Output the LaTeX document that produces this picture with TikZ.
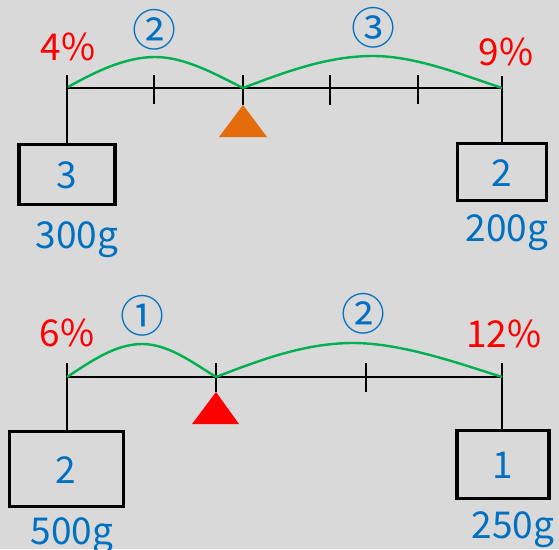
\documentclass[tikz,border=0pt]{standalone}
\usepackage{fontspec}
\setmainfont{Noto Sans CJK JP}
\definecolor{bgcol}{HTML}{D9D9D9}
\definecolor{txtblue}{HTML}{0070C0}
\definecolor{pctred}{HTML}{FF0000}
\definecolor{arcgreen}{HTML}{00B050}
\definecolor{fulcorange}{HTML}{E46C0A}
\definecolor{fulcred}{HTML}{FF0000}
\begin{document}
\begin{tikzpicture}[x=1pt,y=-1pt,
  beam/.style={line width=2.4pt,draw=black},
  weight/.style={draw=black,line width=3.6pt,inner sep=0pt,text=txtblue,
     font=\fontsize{37}{37}\selectfont},
  wnum/.style={anchor=base,inner sep=0pt,text=txtblue,font=\fontsize{37}{37}\selectfont},
  mass/.style={anchor=base,inner sep=0pt,text=txtblue,font=\fontsize{37}{37}\selectfont},
  pct/.style={anchor=base,inner sep=0pt,text=pctred,font=\fontsize{37}{37}\selectfont},
  ratio/.style={anchor=center,inner sep=0pt,text=txtblue,font=\fontsize{44}{44}\selectfont},
  arcline/.style={line width=2.4pt,draw=arcgreen}]
\fill[bgcol] (0,0) rectangle (559,549);
\useasboundingbox (0,0) rectangle (559,549);

% ---------- top balance ----------
\coordinate (TL) at (67,88);
\coordinate (TR) at (502,88);
\coordinate (TF) at (243,88);
\coordinate (TLtop) at (67,75);
\coordinate (TRtop) at (502,76);
\node[weight,minimum width=96pt,minimum height=60pt] (TLbox) at (67,174.5) {};
\node[weight,minimum width=89pt,minimum height=57pt] (TRbox) at (502,172) {};
\draw[beam] (TL) -- (TR);
\draw[beam] (TLtop) -- (TLbox.north);
\draw[beam] (TRtop) -- (TRbox.north);
\draw[beam] (154,75) -- (154,104);
\draw[beam] (243,75) -- (243,105);
\draw[beam] (330,75) -- (330,105);
\draw[beam] (418,75) -- (418,104);
\fill[fulcorange] (243,105) -- (267,137) -- (219,137) -- cycle;
\draw[arcline] (68,87) .. controls (95,72) and (125,57) .. (155,57)
  .. controls (185,57) and (215,74) .. (TF);
\draw[arcline] (TF) .. controls (290,70) and (330,56) .. (373,56)
  .. controls (415,56) and (460,74) .. (TR);
\node[wnum] (tw1) at (67,188) {3};
\node[wnum] (tw2) at (502,186) {2};
\node[mass] (tm1) at (77,248) {300g};
\node[mass] (tm2) at (507,241) {200g};
\node[pct] (tp1) at (68,60) {4\%};
\node[pct] (tp2) at (506,65) {9\%};
\node[ratio] (tr1) at (154,30) {②};
\node[ratio] (tr2) at (373,28) {③};

% ---------- bottom balance ----------
\coordinate (BL) at (67,377);
\coordinate (BR) at (502,377);
\coordinate (BF) at (216,377);
\coordinate (BLtop) at (67,363);
\coordinate (BRtop) at (502,363);
\node[weight,minimum width=114pt,minimum height=75pt] (BLbox) at (66.5,469) {};
\node[weight,minimum width=92pt,minimum height=68pt] (BRbox) at (503,464.5) {};
\draw[beam] (BL) -- (BR);
\draw[beam] (BLtop) -- (BLbox.north -| BLtop);
\draw[beam] (BRtop) -- (BRbox.north -| BRtop);
\draw[beam] (216,363) -- (216,392);
\draw[beam] (366,363) -- (366,392);
\fill[fulcred] (216,392) -- (239,424) -- (192,424) -- cycle;
\draw[arcline] (BL) .. controls (90,362) and (115,344) .. (142,344)
  .. controls (168,344) and (192,362) .. (BF);
\draw[arcline] (BF) .. controls (260,360) and (305,343) .. (353,343)
  .. controls (400,343) and (455,362) .. (BR);
\node[wnum] (bw1) at (66,483) {2};
\node[wnum] (bw2) at (503,478) {1};
\node[mass] (bm1) at (72,544) {500g};
\node[mass] (bm2) at (513,538) {250g};
\node[pct] (bp1) at (67,346) {6\%};
\node[pct] (bp2) at (504,347) {12\%};
\node[ratio] (br1) at (142,316) {①};
\node[ratio] (br2) at (363,314) {②};
\end{tikzpicture}
\end{document}
